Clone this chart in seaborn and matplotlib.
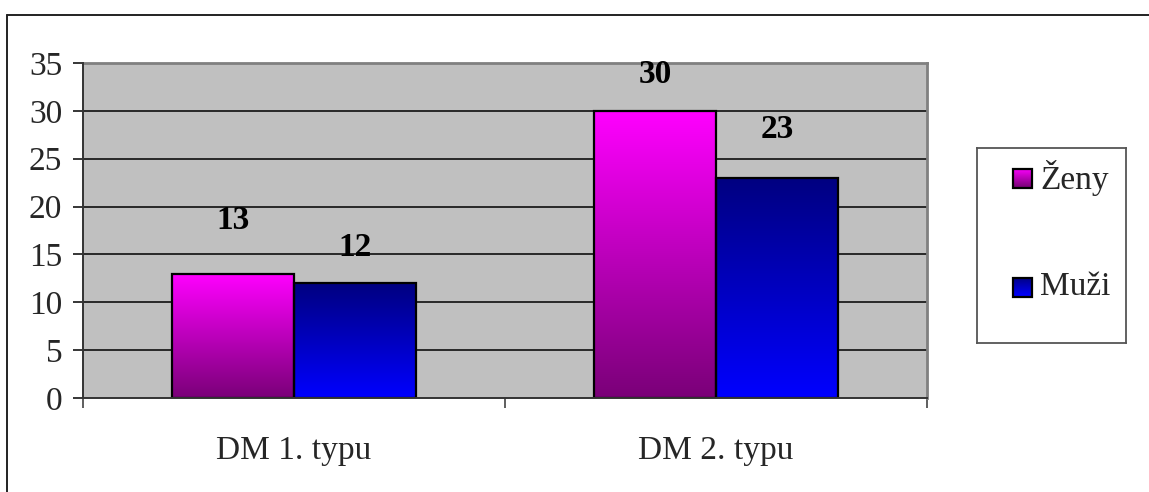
import numpy as np
import pandas as pd
import matplotlib
matplotlib.use("Agg")
import matplotlib.pyplot as plt
from matplotlib.colors import LinearSegmentedColormap
from matplotlib.lines import Line2D
import seaborn as sns

# Data
categories = ["DM 1. typu", "DM 2. typu"]
series_names = ["Ženy", "Muži"]
zeny = [13, 30]
muzi = [12, 23]
y_ticks = [0, 5, 10, 15, 20, 25, 30, 35]

# Gradient styles (top colour, bottom colour) per series
gradients = {
    "Ženy": ("#FF00FF", "#7A0078"),
    "Muži": ("#000080", "#0000FF"),
}
# Distance (px) from bar top to the centre of its value label
label_gap_px = {"Ženy": [53, 36], "Muži": [36, 48]}

df = pd.DataFrame({
    "typ": categories * 2,
    "pohlavi": [series_names[0]] * 2 + [series_names[1]] * 2,
    "pocet": zeny + muzi,
})

sns.set_theme(style="white")
plt.rcParams["font.family"] = ["Liberation Serif", "DejaVu Serif"]

W, H = 1149, 492
fig = plt.figure(figsize=(W / 100, H / 100), dpi=100)
fig.patch.set_facecolor("white")

# plot area in pixel coordinates
L, R, T, B = 83, 927, 63, 398
ax = fig.add_axes([L / W, 1 - B / H, (R - L) / W, (B - T) / H])
ax.set_facecolor("#C0C0C0")

sns.barplot(
    data=df, x="typ", y="pocet", hue="pohlavi",
    order=categories, hue_order=series_names,
    palette={k: v[0] for k, v in gradients.items()},
    width=0.577, edgecolor="black", linewidth=1.6,
    legend=False, ax=ax, zorder=3,
)


def make_cmap(top, bottom):
    return LinearSegmentedColormap.from_list("g", [bottom, top])


grad = np.linspace(0, 1, 256).reshape(-1, 1)

for name, container in zip(series_names, ax.containers):
    top, bottom = gradients[name]
    cmap = make_cmap(top, bottom)
    for i, patch in enumerate(container.patches):
        x0, y0 = patch.get_x(), patch.get_y()
        w, h = patch.get_width(), patch.get_height()
        ax.imshow(grad, extent=[x0, x0 + w, y0, y0 + h], origin="lower",
                  aspect="auto", cmap=cmap, zorder=2.5, interpolation="bilinear")
        patch.set_facecolor("none")
        # value label above bar
        gap = label_gap_px[name][i]
        ax.annotate(f"{h:g}", (x0 + w / 2, y0 + h), xytext=(0, gap * 0.72),
                    textcoords="offset points", ha="center", va="center",
                    fontsize=24, fontweight="bold", color="black", zorder=5)

ax.set_xlim(-0.5, 1.5)
ax.set_ylim(0, 35)
ax.set_yticks(y_ticks)
ax.set_yticklabels([str(t) for t in y_ticks])
ax.set_xticks([0, 1])
ax.set_xticklabels(categories)
ax.set_xticks([-0.5, 0.5, 1.5], minor=True)
ax.set_xlabel("")
ax.set_ylabel("")

# horizontal grid lines
for t in y_ticks[1:-1]:
    ax.axhline(t, color="black", linewidth=1.1, zorder=1)

ax.tick_params(axis="y", which="major", direction="out", length=7, width=1.1,
               color="black", pad=8, labelsize=24, left=True)
ax.tick_params(axis="x", which="major", length=0, pad=27, labelsize=24, bottom=True)
ax.tick_params(axis="x", which="minor", direction="out", length=7, width=1.1,
               color="#333333", bottom=True)

for side in ["top", "right"]:
    ax.spines[side].set_color("#808080")
    ax.spines[side].set_linewidth(2)
for side in ["left", "bottom"]:
    ax.spines[side].set_color("#333333")
    ax.spines[side].set_linewidth(1.4)
    ax.spines[side].set_zorder(4)

# legend box
LL, LR, LT, LB = 977, 1126, 148, 343
lax = fig.add_axes([LL / W, 1 - LB / H, (LR - LL) / W, (LB - LT) / H])
lax.set_xlim(LL, LR)
lax.set_ylim(LB, LT)
lax.set_xticks([])
lax.set_yticks([])
for s in lax.spines.values():
    s.set_color("#555555")
    s.set_linewidth(1.3)

entry_y = [178, 287]
for name, yc in zip(series_names, entry_y):
    top, bottom = gradients[name]
    lax.imshow(grad[::-1], extent=[1013, 1032, yc + 9.5, yc - 9.5],
               aspect="auto", cmap=make_cmap(top, bottom), zorder=2)
    lax.add_patch(plt.Rectangle((1013, yc - 9.5), 19, 19, fill=False,
                                edgecolor="black", linewidth=1.6, zorder=3))
    lax.text(1040, yc, name, fontsize=24, va="center", ha="left")
lax.set_xlim(LL, LR)
lax.set_ylim(LB, LT)

# outer chart frame (top and left edges)
fig.add_artist(Line2D([7 / W, 1.0], [1 - 15 / H, 1 - 15 / H], color="#222222",
                      linewidth=1.4, transform=fig.transFigure))
fig.add_artist(Line2D([7 / W, 7 / W], [0, 1 - 15 / H], color="#222222",
                      linewidth=1.4, transform=fig.transFigure))

fig.savefig("out.png", dpi=100, facecolor="white")
